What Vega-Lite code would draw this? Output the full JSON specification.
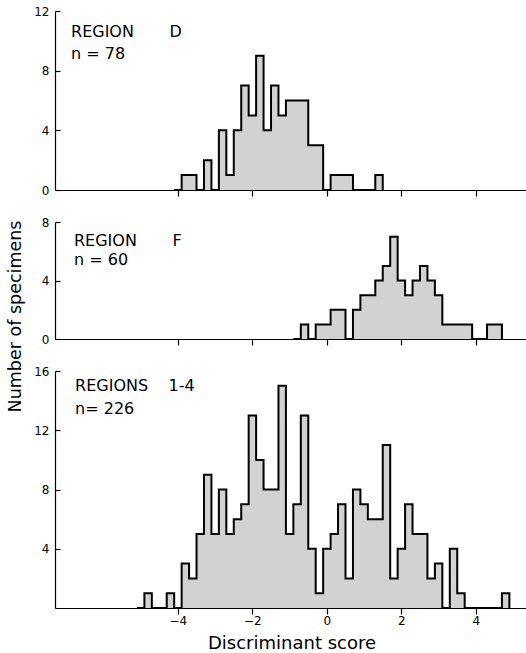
{
  "$schema": "https://vega.github.io/schema/vega-lite/v6.json",
  "background": "white",
  "padding": 5,
  "datasets": {
    "D": [
      {"score": -4.1, "count": 0}, {"score": -3.9, "count": 1}, {"score": -3.7, "count": 1}, {"score": -3.5, "count": 0},
      {"score": -3.3, "count": 2}, {"score": -3.1, "count": 0}, {"score": -2.9, "count": 4}, {"score": -2.7, "count": 1},
      {"score": -2.5, "count": 4}, {"score": -2.3, "count": 7}, {"score": -2.1, "count": 5}, {"score": -1.9, "count": 9},
      {"score": -1.7, "count": 4}, {"score": -1.5, "count": 7}, {"score": -1.3, "count": 5}, {"score": -1.1, "count": 6},
      {"score": -0.9, "count": 6}, {"score": -0.7, "count": 6}, {"score": -0.5, "count": 3}, {"score": -0.3, "count": 3},
      {"score": -0.1, "count": 0}, {"score": 0.1, "count": 1}, {"score": 0.3, "count": 1}, {"score": 0.5, "count": 1},
      {"score": 0.7, "count": 0}, {"score": 0.9, "count": 0}, {"score": 1.1, "count": 0}, {"score": 1.3, "count": 1},
      {"score": 1.5, "count": 0}
    ],
    "F": [
      {"score": -0.9, "count": 0}, {"score": -0.7, "count": 1}, {"score": -0.5, "count": 0}, {"score": -0.3, "count": 1},
      {"score": -0.1, "count": 1}, {"score": 0.1, "count": 2}, {"score": 0.3, "count": 2}, {"score": 0.5, "count": 0},
      {"score": 0.7, "count": 2}, {"score": 0.9, "count": 3}, {"score": 1.1, "count": 3}, {"score": 1.3, "count": 4},
      {"score": 1.5, "count": 5}, {"score": 1.7, "count": 7}, {"score": 1.9, "count": 4}, {"score": 2.1, "count": 3},
      {"score": 2.3, "count": 4}, {"score": 2.5, "count": 5}, {"score": 2.7, "count": 4}, {"score": 2.9, "count": 3},
      {"score": 3.1, "count": 1}, {"score": 3.3, "count": 1}, {"score": 3.5, "count": 1}, {"score": 3.7, "count": 1},
      {"score": 3.9, "count": 0}, {"score": 4.1, "count": 0}, {"score": 4.3, "count": 1}, {"score": 4.5, "count": 1},
      {"score": 4.7, "count": 0}
    ],
    "R": [
      {"score": -5.1, "count": 0}, {"score": -4.9, "count": 1}, {"score": -4.7, "count": 0}, {"score": -4.5, "count": 0},
      {"score": -4.3, "count": 1}, {"score": -4.1, "count": 0}, {"score": -3.9, "count": 3}, {"score": -3.7, "count": 2},
      {"score": -3.5, "count": 5}, {"score": -3.3, "count": 9}, {"score": -3.1, "count": 5}, {"score": -2.9, "count": 8},
      {"score": -2.7, "count": 5}, {"score": -2.5, "count": 6}, {"score": -2.3, "count": 7}, {"score": -2.1, "count": 13},
      {"score": -1.9, "count": 10}, {"score": -1.7, "count": 8}, {"score": -1.5, "count": 8}, {"score": -1.3, "count": 15},
      {"score": -1.1, "count": 5}, {"score": -0.9, "count": 7}, {"score": -0.7, "count": 13}, {"score": -0.5, "count": 4},
      {"score": -0.3, "count": 1}, {"score": -0.1, "count": 4}, {"score": 0.1, "count": 5}, {"score": 0.3, "count": 7},
      {"score": 0.5, "count": 2}, {"score": 0.7, "count": 8}, {"score": 0.9, "count": 7}, {"score": 1.1, "count": 6},
      {"score": 1.3, "count": 6}, {"score": 1.5, "count": 11}, {"score": 1.7, "count": 2}, {"score": 1.9, "count": 4},
      {"score": 2.1, "count": 7}, {"score": 2.3, "count": 5}, {"score": 2.5, "count": 5}, {"score": 2.7, "count": 2},
      {"score": 2.9, "count": 3}, {"score": 3.1, "count": 0}, {"score": 3.3, "count": 4}, {"score": 3.5, "count": 1},
      {"score": 3.7, "count": 0}, {"score": 3.9, "count": 0}, {"score": 4.1, "count": 0}, {"score": 4.3, "count": 0},
      {"score": 4.5, "count": 0}, {"score": 4.7, "count": 1}, {"score": 4.9, "count": 0}
    ],
    "labelD": [{"lines": ["REGION\u00a0\u00a0\u00a0\u00a0\u00a0\u00a0\u00a0D", "n = 78"]}],
    "labelF": [{"lines": ["REGION\u00a0\u00a0\u00a0\u00a0\u00a0\u00a0\u00a0F", "n = 60"]}],
    "labelR": [{"lines": ["REGIONS\u00a0\u00a0\u00a0\u00a01-4", "n= 226"]}]
  },
  "config": {
    "font": "DejaVu Sans",
    "view": {"stroke": null},
    "axis": {
      "grid": false,
      "domainColor": "black",
      "domainWidth": 1.2,
      "tickColor": "black",
      "tickWidth": 1.2,
      "labelColor": "black",
      "labelFont": "DejaVu Sans",
      "labelFontSize": 12,
      "titleColor": "black",
      "titleFont": "DejaVu Sans",
      "titleFontWeight": "normal",
      "titleFontSize": 18
    },
    "text": {"font": "DejaVu Sans", "color": "black"}
  },
  "spacing": 32,
  "bounds": "flush",
  "vconcat": [
    {
      "width": 473,
      "height": 179,
      "layer": [
        {
          "data": {"name": "D"},
          "mark": {"type": "area", "interpolate": "step-after", "color": "#d2d2d2"},
          "encoding": {
            "x": {"field": "score", "type": "quantitative", "scale": {"domain": [-7.3, 5.4], "nice": false, "zero": false},
                  "axis": {"values": [-4, -2, 0, 2, 4], "labels": false, "title": null, "tickSize": 6}},
            "y": {"field": "count", "type": "quantitative", "scale": {"domain": [0, 12], "nice": false},
                  "axis": {"values": [0, 4, 8, 12], "title": null, "tickSize": -5, "labelPadding": 11}}
          }
        },
        {
          "data": {"name": "D"},
          "mark": {"type": "line", "interpolate": "step-after", "color": "black", "strokeWidth": 2},
          "encoding": {
            "x": {"field": "score", "type": "quantitative"},
            "y": {"field": "count", "type": "quantitative"}
          }
        },
        {
          "data": {"name": "labelD"},
          "mark": {"type": "text", "align": "left", "baseline": "top", "fontSize": 16, "lineHeight": 22},
          "encoding": {
            "x": {"datum": -6.87, "type": "quantitative"},
            "y": {"datum": 11.14, "type": "quantitative"},
            "text": {"field": "lines"}
          }
        }
      ]
    },
    {
      "width": 473,
      "height": 117,
      "layer": [
        {
          "data": {"name": "F"},
          "mark": {"type": "area", "interpolate": "step-after", "color": "#d2d2d2"},
          "encoding": {
            "x": {"field": "score", "type": "quantitative", "scale": {"domain": [-7.3, 5.4], "nice": false, "zero": false},
                  "axis": {"values": [-4, -2, 0, 2, 4], "labels": false, "title": null, "tickSize": 6}},
            "y": {"field": "count", "type": "quantitative", "scale": {"domain": [0, 8], "nice": false},
                  "axis": {"values": [0, 4, 8], "title": "Number of specimens", "titleFontSize": 17.5, "titleX": -31, "titleY": 94, "tickSize": -5, "labelPadding": 11}}
          }
        },
        {
          "data": {"name": "F"},
          "mark": {"type": "line", "interpolate": "step-after", "color": "black", "strokeWidth": 2},
          "encoding": {
            "x": {"field": "score", "type": "quantitative"},
            "y": {"field": "count", "type": "quantitative"}
          }
        },
        {
          "data": {"name": "labelF"},
          "mark": {"type": "text", "align": "left", "baseline": "top", "fontSize": 16, "lineHeight": 19},
          "encoding": {
            "x": {"datum": -6.79, "type": "quantitative"},
            "y": {"datum": 7.26, "type": "quantitative"},
            "text": {"field": "lines"}
          }
        }
      ]
    },
    {
      "width": 473,
      "height": 237,
      "layer": [
        {
          "data": {"name": "R"},
          "mark": {"type": "area", "interpolate": "step-after", "color": "#d2d2d2"},
          "encoding": {
            "x": {"field": "score", "type": "quantitative", "scale": {"domain": [-7.3, 5.4], "nice": false, "zero": false},
                  "axis": {"values": [-4, -2, 0, 2, 4], "title": "Discriminant score", "tickSize": 6, "labelPadding": 1, "titlePadding": 8}},
            "y": {"field": "count", "type": "quantitative", "scale": {"domain": [0, 16], "nice": false},
                  "axis": {"values": [4, 8, 12, 16], "title": null, "tickSize": -5, "labelPadding": 11}}
          }
        },
        {
          "data": {"name": "R"},
          "mark": {"type": "line", "interpolate": "step-after", "color": "black", "strokeWidth": 2},
          "encoding": {
            "x": {"field": "score", "type": "quantitative"},
            "y": {"field": "count", "type": "quantitative"}
          }
        },
        {
          "data": {"name": "labelR"},
          "mark": {"type": "text", "align": "left", "baseline": "top", "fontSize": 16, "lineHeight": 23},
          "encoding": {
            "x": {"datum": -6.76, "type": "quantitative"},
            "y": {"datum": 15.5, "type": "quantitative"},
            "text": {"field": "lines"}
          }
        }
      ]
    }
  ]
}
